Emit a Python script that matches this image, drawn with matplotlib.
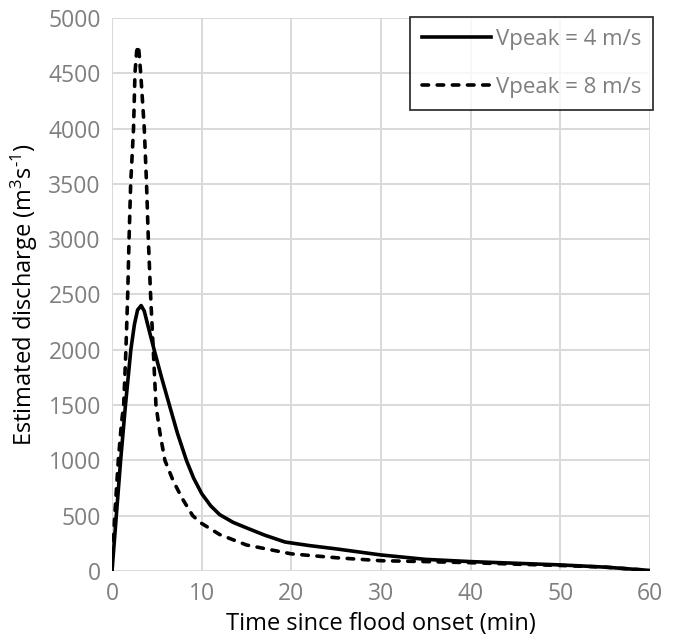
import numpy as np
import matplotlib
matplotlib.use("Agg")
import matplotlib.pyplot as plt

# values
t_v4 = [0, 0.48, 0.96, 1.5, 2.1, 2.5, 2.85, 3.25, 3.6, 4.0, 4.7, 5.5, 6.4, 7.3,
        8.3, 9.1, 10, 11, 12, 13.5, 15, 17, 19.3, 22, 25, 30, 35, 40, 45, 50, 55, 60]
q_v4 = [0, 500, 1000, 1500, 2000, 2230, 2360, 2400, 2350, 2220, 2000, 1757, 1500,
        1245, 1000, 840, 700, 590, 510, 440, 390, 325, 262, 230, 200, 145, 105,
        85, 70, 55, 35, 5]

t_v8 = [0, 0.3, 0.7, 1.05, 1.3, 1.55, 1.75, 1.9, 2.08, 2.4, 2.56, 2.75, 2.95, 3.2,
        3.6, 3.85, 4.05, 4.3, 4.6, 4.9, 5.35, 5.9, 6.8, 7.8, 9, 10, 12, 15, 20, 25,
        30, 35, 40, 45, 50, 55, 60]
q_v8 = [0, 500, 1000, 1335, 1500, 2000, 2500, 3000, 3500, 4000, 4500, 4700, 4750,
        4500, 4000, 3500, 3000, 2500, 2000, 1500, 1245, 1000, 820, 660, 500, 430,
        330, 235, 155, 120, 93, 85, 75, 62, 50, 35, 5]

labels = ["Vpeak = 4 m/s", "Vpeak = 8 m/s"]

plt.rcParams['font.family'] = ['Open Sans', 'DejaVu Sans']
plt.rcParams['mathtext.fontset'] = 'custom'
plt.rcParams['mathtext.rm'] = 'Open Sans'
plt.rcParams['mathtext.it'] = 'Open Sans'
plt.rcParams['mathtext.default'] = 'regular'

fig = plt.figure(figsize=(6.76, 6.36), dpi=100)
ax = fig.add_axes([0.1657, 0.1022, 0.7958, 0.8695])

ax.plot(t_v4, q_v4, color='black', lw=2.6, solid_joinstyle='round', label=labels[0])
ax.plot(t_v8, q_v8, color='black', lw=2.6, linestyle=(0, (1.8, 2.4)),
        dash_capstyle='round', label=labels[1])

ax.set_xlim(0, 60)
ax.set_ylim(0, 5000)
ax.set_xticks(np.arange(0, 61, 10))
ax.set_yticks(np.arange(0, 5001, 500))
ax.grid(True, color='#d9d9d9', lw=1.4)
ax.set_axisbelow(True)
for s in ax.spines.values():
    s.set_visible(False)
ax.tick_params(length=0, labelsize=16.5, labelcolor='#7f7f7f', pad=8)

ax.set_xlabel("Time since flood onset (min)", fontsize=17, labelpad=4)
ax.set_ylabel(r"Estimated discharge (m$^{3}$s$^{\text{-1}}$)", fontsize=17, labelpad=6)

leg = ax.legend(loc='upper right', bbox_to_anchor=(1.006, 1.002), fontsize=16,
                frameon=True, fancybox=False, handlelength=3.1, handletextpad=0.2,
                borderpad=0.55, labelspacing=1.2, borderaxespad=0)
leg.get_frame().set_edgecolor('black')
leg.get_frame().set_linewidth(1.3)
for txt in leg.get_texts():
    txt.set_color('#7f7f7f')

fig.savefig("out.png", dpi=100)
